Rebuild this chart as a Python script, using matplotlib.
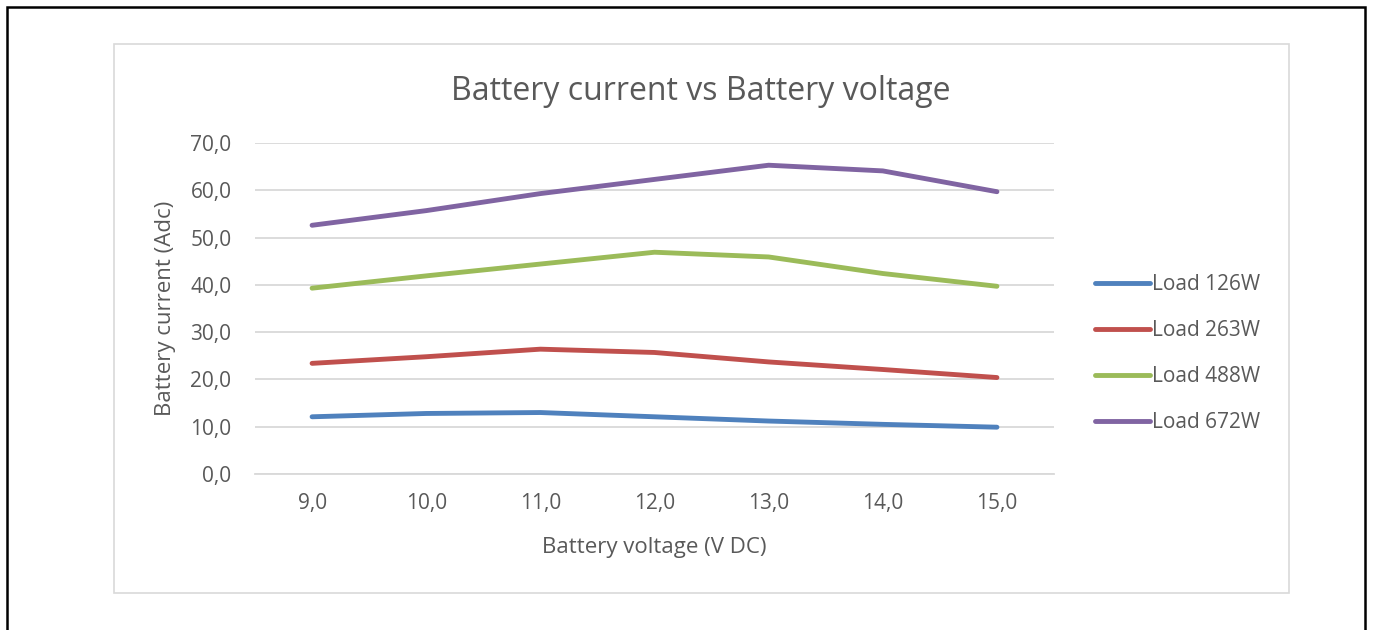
import matplotlib
matplotlib.use("Agg")
from matplotlib import pyplot as plt
from matplotlib.patches import Rectangle

plt.rcParams['font.family'] = ['Open Sans', 'DejaVu Sans']

# ===================== data =====================
voltages = ["9,0", "10,0", "11,0", "12,0", "13,0", "14,0", "15,0"]
load_126w = [12.1, 12.8, 13.0, 12.1, 11.2, 10.5, 9.9]
load_263w = [23.4, 24.8, 26.4, 25.7, 23.7, 22.1, 20.4]
load_488w = [39.3, 41.9, 44.4, 46.9, 45.9, 42.4, 39.7]
load_672w = [52.6, 55.7, 59.3, 62.3, 65.3, 64.1, 59.7]
y_ticks = [0, 10, 20, 30, 40, 50, 60, 70]

series = [
    ("Load 126W", load_126w, "#4F81BD"),
    ("Load 263W", load_263w, "#C0504D"),
    ("Load 488W", load_488w, "#9BBB59"),
    ("Load 672W", load_672w, "#8064A2"),
]

text_color = "#595959"
grid_color = "#d9d9d9"

W, H = 1373, 630
fig = plt.figure(figsize=(W / 100, H / 100), dpi=100)

# outer frame and chart box
fig.patches.append(Rectangle((7 / W, -0.1), 1358 / W, 1.1 - 7 / H,
                             transform=fig.transFigure, fill=False,
                             ec="black", lw=1.8))
fig.patches.append(Rectangle((114 / W, 1 - 593 / H), 1175 / W, 549 / H,
                             transform=fig.transFigure, fill=False,
                             ec=grid_color, lw=1.2))

# plot area
ax = fig.add_axes([255 / W, 1 - 474 / H, 799 / W, 331 / H])
x = list(range(len(voltages)))
for label, vals, color in series:
    ax.plot(x, vals, color=color, lw=3.5, solid_capstyle="round",
            solid_joinstyle="round", label=label)

ax.set_xlim(-0.5, len(voltages) - 0.5)
ax.set_ylim(0, 70)
ax.set_yticks(y_ticks)
ax.set_yticklabels([f"{v},0" for v in y_ticks])
ax.set_xticks(x)
ax.set_xticklabels(voltages)
ax.grid(axis="y", color=grid_color, lw=1.3)
ax.set_axisbelow(True)
for side in ["top", "right", "left"]:
    ax.spines[side].set_visible(False)
ax.spines["bottom"].set_color(grid_color)
ax.spines["bottom"].set_linewidth(1.3)
ax.tick_params(length=0, labelsize=15, colors=text_color)
ax.tick_params(axis="y", pad=17)
ax.tick_params(axis="x", pad=14)

ax.set_xlabel("Battery voltage (V DC)", fontsize=16, color=text_color, labelpad=16)
ax.set_ylabel("Battery current (Adc)", fontsize=16, color=text_color, labelpad=10)

fig.text(701 / W, 1 - 91 / H, "Battery current vs Battery voltage",
         ha="center", va="center", fontsize=23, color=text_color)

leg = ax.legend(loc="center left", bbox_to_anchor=(1087 / W, 1 - 354 / H),
                bbox_transform=fig.transFigure, frameon=False, fontsize=15,
                handlelength=2.6, handletextpad=0.1, labelspacing=1.2,
                borderaxespad=0)
for t in leg.get_texts():
    t.set_color(text_color)

fig.savefig("out.png", dpi=100, facecolor="white")
